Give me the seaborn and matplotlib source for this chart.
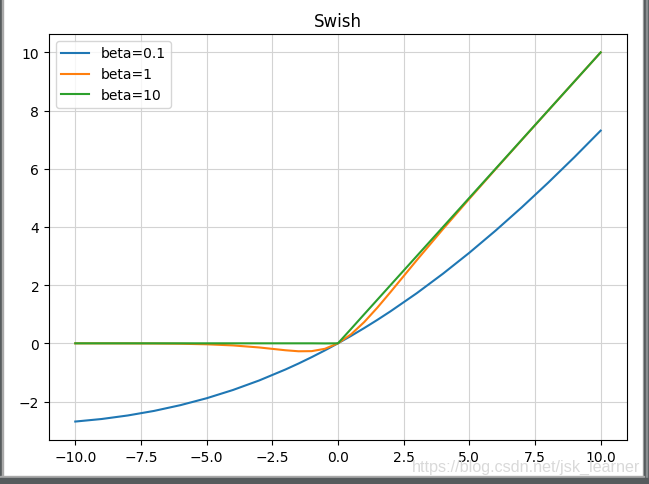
import numpy as np
import pandas as pd
import matplotlib
matplotlib.use("Agg")
import matplotlib.pyplot as plt
import seaborn as sns
from matplotlib.patches import Rectangle

# x 샘플 위치
x_vals = [-10, -9, -8, -7, -6, -5, -4, -3, -2, -1.5, -1, -0.5,
          0, 0.5, 1, 1.5, 2, 3, 4, 5, 6, 7, 8, 9, 10]

# beta별 y 값
beta_01 = [-2.689, -2.602, -2.480, -2.323, -2.126, -1.888, -1.605, -1.277, -0.900, -0.694, -0.475, -0.244,
           0.0, 0.256, 0.525, 0.806, 1.100, 1.723, 2.395, 3.112, 3.874, 4.677, 5.520, 6.398, 7.311]
beta_1 = [-0.0005, -0.0011, -0.0027, -0.0064, -0.0148, -0.0335, -0.0719, -0.1423, -0.2384, -0.2736, -0.2689, -0.1888,
          0.0, 0.3112, 0.7311, 1.2264, 1.7616, 2.8577, 3.9281, 4.9665, 5.9852, 6.9936, 7.9973, 8.9989, 9.9995]
beta_10 = [0.0, 0.0, 0.0, 0.0, 0.0, 0.0, 0.0, 0.0, 0.0, 0.0, -0.0000, -0.0034,
           0.0, 0.4966, 1.0, 1.5, 2.0, 3.0, 4.0, 5.0, 6.0, 7.0, 8.0, 9.0, 10.0]
labels = ["beta=0.1", "beta=1", "beta=10"]

df = pd.DataFrame({
    "x": x_vals * 3,
    "y": beta_01 + beta_1 + beta_10,
    "beta": [labels[0]] * len(x_vals) + [labels[1]] * len(x_vals) + [labels[2]] * len(x_vals),
})

fig = plt.figure(figsize=(6.49, 4.85), dpi=100)
ax = fig.add_axes([0.0755, 0.0907, 0.8905, 0.8373])

sns.lineplot(data=df, x="x", y="y", hue="beta", palette=["#1f77b4", "#ff7f0e", "#2ca02c"],
             ax=ax, linewidth=1.5, sort=False, estimator=None)

ax.set_title("Swish", fontsize=12)
ax.set_xlabel("")
ax.set_ylabel("")
ax.set_xticks([-10, -7.5, -5, -2.5, 0, 2.5, 5, 7.5, 10])
ax.set_xticklabels(["\u221210.0", "\u22127.5", "\u22125.0", "\u22122.5", "0.0", "2.5", "5.0", "7.5", "10.0"])
ax.set_yticks([-2, 0, 2, 4, 6, 8, 10])
ax.grid(True, color="#d3d3d3", linewidth=0.8)
ax.set_axisbelow(True)
ax.legend(loc="upper left", title=None)

# 워터마크
fig.text(0.987, 0.036, "https://blog.csdn.net/jsk_learner", ha="right", va="center",
         fontsize=11.6, color="#d9d9d9", family="Liberation Sans")

# 창 테두리
W, H = 649, 485
def px_rect(x0, y0, w, h, color):
    fig.patches.append(Rectangle((x0 / W, 1 - (y0 + h) / H), w / W, h / H,
                                 transform=fig.transFigure, color=color, zorder=10))

px_rect(0, 0, 2, H, "#565b5d")
px_rect(2, 0, 1, H - 6, "#a9a9a9")
px_rect(643, 0, 1, H - 6, "#a9a9a9")
px_rect(644, 0, 5, H, "#565b5d")
px_rect(646, 0, 1, H - 3, "#8a8f91")
px_rect(0, 477, W - 5, 1, "#a9a9a9")
px_rect(0, 479, W, 6, "#565b5d")

fig.savefig("out.png", dpi=100)
